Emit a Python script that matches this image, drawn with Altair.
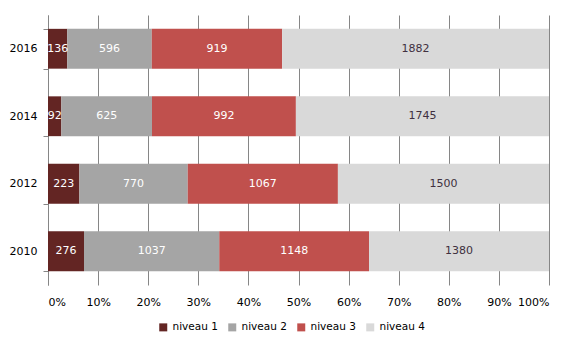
import altair as alt
import pandas as pd

years = ["2016", "2014", "2012", "2010"]
levels = ["niveau 1", "niveau 2", "niveau 3", "niveau 4"]
niveau1 = [136, 92, 223, 276]
niveau2 = [596, 625, 770, 1037]
niveau3 = [919, 992, 1067, 1148]
niveau4 = [1882, 1745, 1500, 1380]
colors = ["#632523", "#A5A5A5", "#C0504D", "#D9D9D9"]
text_colors = ["#FFFFFF", "#FFFFFF", "#FFFFFF", "#403040"]

rows = []
for i, y in enumerate(years):
    for j, (lvl, series) in enumerate(zip(levels, [niveau1, niveau2, niveau3, niveau4])):
        rows.append({"year": y, "level": lvl, "order": j, "value": series[i]})
df = pd.DataFrame(rows)

FONT = "DejaVu Sans"

base = alt.Chart(df).transform_joinaggregate(
    total="sum(value)", groupby=["year"]
).transform_window(
    cum="sum(value)", groupby=["year"], sort=[alt.SortField("order")]
).transform_calculate(
    start="(datum.cum - datum.value) / datum.total",
    end="datum.cum / datum.total",
    mid="(datum.cum - datum.value / 2) / datum.total",
)

yenc = alt.Y(
    "year:N",
    sort=years,
    title=None,
    scale=alt.Scale(paddingInner=0.41, paddingOuter=0.205),
    axis=alt.Axis(
        tickBand="extent",
        tickSize=5,
        tickColor="#868686",
        domainColor="#868686",
        labelPadding=6,
        labelFont=FONT,
        labelFontSize=11,
        labelColor="#000000",
        grid=False,
    ),
)

bars = base.mark_bar().encode(
    x=alt.X(
        "start:Q",
        scale=alt.Scale(domain=[0, 1], nice=False),
        title=None,
        axis=alt.Axis(
            format="%",
            values=[i / 10 for i in range(11)],
            grid=True,
            gridColor="#868686",
            domain=False,
            ticks=False,
            labelPadding=11,
            labelFont=FONT,
            labelFontSize=11,
            labelColor="#000000",
        ),
    ),
    x2="end:Q",
    y=yenc,
    color=alt.Color(
        "level:N",
        scale=alt.Scale(domain=levels, range=colors),
        title=None,
        legend=alt.Legend(
            orient="none",
            direction="horizontal",
            legendX=110,
            legendY=307,
            symbolType="square",
            symbolSize=64,
            symbolStrokeWidth=0,
            labelFont=FONT,
            labelFontSize=10.5,
            labelColor="#000000",
            columnPadding=9,
            labelOffset=4,
        ),
    ),
)

texts = base.mark_text(font=FONT, fontSize=11).encode(
    x="mid:Q",
    y=alt.Y("year:N", sort=years),
    text="value:Q",
    color=alt.Color("level:N", scale=alt.Scale(domain=levels, range=text_colors), legend=None),
)

chart = alt.layer(bars, texts).resolve_scale(color="independent").properties(
    width=501,
    height=270,
    padding={"left": 48, "top": 15, "right": 30, "bottom": 66},
    autosize=alt.AutoSizeParams(type="none"),
).configure_view(stroke=None)

chart.save("out.html", embed_options={"renderer": "svg", "actions": False})
